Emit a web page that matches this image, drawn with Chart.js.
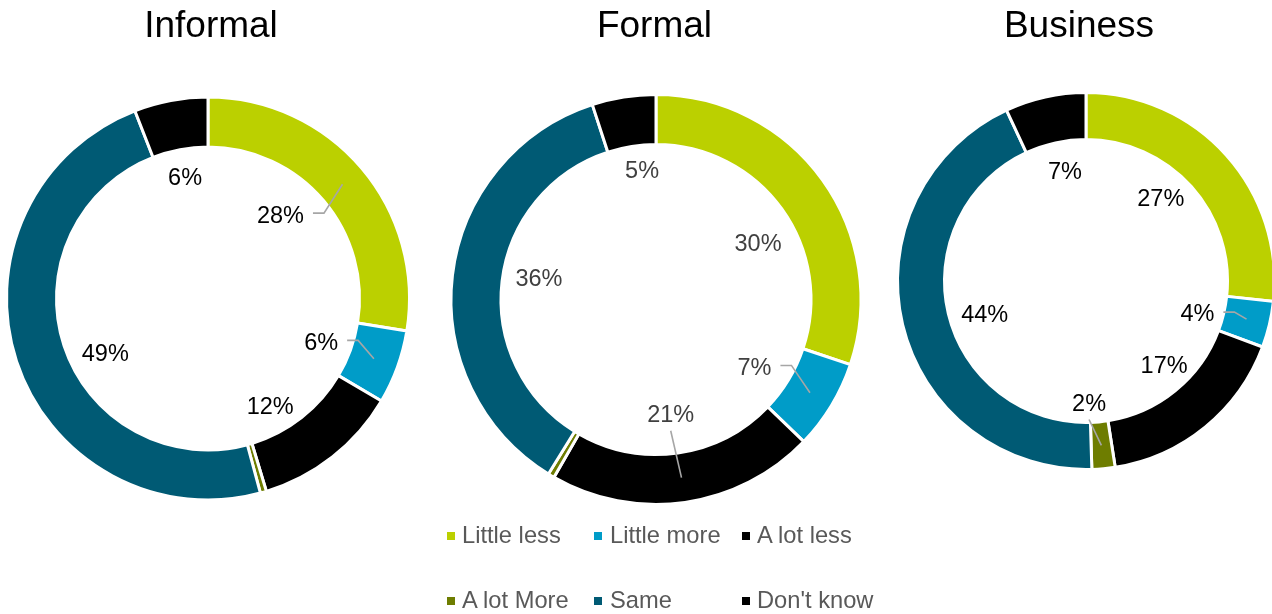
<!DOCTYPE html>
<html>
<head>
<meta charset="utf-8">
<script src="https://cdn.jsdelivr.net/npm/chart.js@4/dist/chart.umd.min.js"></script>
<style>
  html, body { margin: 0; padding: 0; background: #ffffff; }
  body { position: relative; width: 1272px; height: 614px; overflow: hidden;
         font-family: "Liberation Sans", Arial, sans-serif; }
  canvas.ring { position: absolute; left: 0; top: 0; }
  .title { position: absolute; top: 6px; font-size: 37px; line-height: 37px; color: #000;
           white-space: nowrap; transform: translateX(-50%); }
  .lg-box { position: absolute; width: 8px; height: 8px; }
  .lg-text { position: absolute; font-size: 23.7px; line-height: 23.7px; color: #595959; white-space: nowrap; }
</style>
</head>
<body>
<script>
// Answer categories, in drawing order (clockwise from 12 o'clock)
const categories = ['Little less', 'Little more', 'A lot less', 'A lot More', 'Same', "Don't know"];
const seriesColors = ['#BBD000', '#009CC8', '#000000', '#6E7D00', '#005A74', '#000000'];

// Percentages per register
const informalValues = [28, 6, 12, 0.5, 49, 6];
const formalValues   = [30, 7, 21, 0.5, 36, 5];
const businessValues = [27, 4, 17, 2, 44, 7];
const chartTitles = ['Informal', 'Formal', 'Business'];

// Where each percentage sits inside the hole: angle nudge (deg) from the slice middle,
// distance as a share of the outer radius, and an optional leader line style.
const informalLabelLayout = [
  { shift: -9, r: 0.556, leader: 'side' },
  { shift: 0.8, r: 0.605, leader: 'side' },
  { shift: 8, r: 0.62 },
  null,
  { shift: -9.5, r: 0.58 },
  { shift: 0, r: 0.62 }
];
const formalLabelLayout = [
  { shift: 6.4, r: 0.575 },
  { shift: 3, r: 0.585, leader: 'side' },
  { shift: 0.8, r: 0.566, leader: 'below' },
  null,
  { shift: 3.6, r: 0.585 },
  { shift: 2.9, r: 0.64 }
];
const businessLabelLayout = [
  { shift: -6.3, r: 0.60 },
  { shift: 2.7, r: 0.62, leader: 'side' },
  { shift: -4, r: 0.61 },
  { shift: 3.9, r: 0.65, leader: 'below' },
  { shift: -4.7, r: 0.57 },
  { shift: 1.7, r: 0.60 }
];

const W = 1272, H = 614;
const BORDER = 3;

const rings = [
  { title: chartTitles[0], values: informalValues, layout: informalLabelLayout,
    cx: 208, cy: 298.5, outer: 200, inner: 153, titleX: 211, labelColor: '#000000' },
  { title: chartTitles[1], values: formalValues, layout: formalLabelLayout,
    cx: 656, cy: 299.5, outer: 203.5, inner: 156.5, titleX: 654.5, labelColor: '#404040' },
  { title: chartTitles[2], values: businessValues, layout: businessLabelLayout,
    cx: 1086, cy: 281, outer: 187, inner: 143, titleX: 1079, labelColor: '#000000' }
];

// Percent labels with leader lines, drawn on top of the arcs
const percentLabels = {
  id: 'percentLabels',
  afterDatasetsDraw(chart, args, opts) {
    const ctx = chart.ctx;
    const meta = chart.getDatasetMeta(0);
    const values = chart.data.datasets[0].data;
    const fs = 23.5;
    ctx.save();
    ctx.font = fs + 'px "Liberation Sans", Arial, sans-serif';
    meta.data.forEach((arc, i) => {
      const spec = opts.layout[i];
      if (!spec) return;
      const p = arc.getProps(['x', 'y', 'startAngle', 'endAngle', 'outerRadius', 'innerRadius'], true);
      const mid = (p.startAngle + p.endAngle) / 2;
      const a = mid + spec.shift * Math.PI / 180;
      const R = p.outerRadius - BORDER / 2;
      const lx = p.x + spec.r * R * Math.cos(a);
      const ly = p.y + spec.r * R * Math.sin(a);
      const text = values[i] + '%';
      const tw = ctx.measureText(text).width;

      if (spec.leader) {
        const rm = (p.innerRadius + p.outerRadius) / 2;
        const ex = p.x + rm * Math.cos(mid);
        const ey = p.y + rm * Math.sin(mid);
        ctx.strokeStyle = '#A6A6A6';
        ctx.lineWidth = 1.6;
        ctx.beginPath();
        if (spec.leader === 'side') {
          const sx = lx + tw / 2 + 9;
          const sy = ly - 1;
          ctx.moveTo(sx, sy);
          ctx.lineTo(sx + 11, sy);
          ctx.lineTo(ex, ey);
        } else {
          ctx.moveTo(lx, ly + 17);
          ctx.lineTo(ex, ey);
        }
        ctx.stroke();
      }

      ctx.fillStyle = opts.color;
      ctx.textAlign = 'center';
      ctx.textBaseline = 'alphabetic';
      ctx.fillText(text, lx, ly + 0.358 * fs);
    });
    ctx.restore();
  }
};

rings.forEach(ring => {
  const canvas = document.createElement('canvas');
  canvas.className = 'ring';
  canvas.width = W;
  canvas.height = H;
  canvas.style.width = W + 'px';
  canvas.style.height = H + 'px';
  document.body.appendChild(canvas);

  const half = 100;
  new Chart(canvas, {
    type: 'doughnut',
    data: {
      labels: categories,
      datasets: [{
        data: ring.values,
        backgroundColor: seriesColors,
        borderColor: '#ffffff',
        borderWidth: BORDER,
        hoverOffset: 0
      }]
    },
    options: {
      responsive: false,
      animation: false,
      devicePixelRatio: 1,
      radius: ring.outer + BORDER / 2,
      cutout: ((ring.inner - BORDER / 2) / (ring.outer + BORDER / 2) * 100) + '%',
      layout: {
        padding: {
          left: ring.cx - half,
          right: W - ring.cx - half,
          top: ring.cy - half,
          bottom: H - ring.cy - half
        }
      },
      plugins: {
        legend: { display: false },
        tooltip: { enabled: false },
        percentLabels: { layout: ring.layout, color: ring.labelColor }
      },
      events: []
    },
    plugins: [percentLabels]
  });

  const t = document.createElement('div');
  t.className = 'title';
  t.style.left = ring.titleX + 'px';
  t.textContent = ring.title;
  document.body.appendChild(t);
});

// Shared legend, two rows of three
const legendCols = [{ box: 447, text: 462 }, { box: 594, text: 610 }, { box: 742, text: 757 }];
const legendRows = [{ box: 532, text: 523.5 }, { box: 597, text: 589 }];
categories.forEach((name, i) => {
  const col = legendCols[i % 3];
  const row = legendRows[Math.floor(i / 3)];
  const b = document.createElement('div');
  b.className = 'lg-box';
  b.style.left = col.box + 'px';
  b.style.top = row.box + 'px';
  b.style.background = seriesColors[i];
  document.body.appendChild(b);
  const s = document.createElement('div');
  s.className = 'lg-text';
  s.style.left = col.text + 'px';
  s.style.top = row.text + 'px';
  s.textContent = name;
  document.body.appendChild(s);
});
</script>
</body>
</html>
